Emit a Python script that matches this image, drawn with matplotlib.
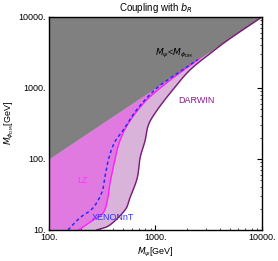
import numpy as np
import matplotlib
matplotlib.use("Agg")
import matplotlib.pyplot as plt
from matplotlib.ticker import FixedLocator, FixedFormatter, LogLocator, NullFormatter

# curves: M_phi (y) -> M_psi (x)
lz_phi = [10, 13, 17.4, 28, 43, 74, 158, 302, 620, 1100, 1800, 2600]
lz_psi = [190, 245, 323, 357, 372, 400, 450, 545, 780, 1200, 1850, 2600]

xe_phi = [10, 14.8, 20.4, 34.3, 59.5, 103, 173, 256, 417, 678, 1000, 1430, 2500]
xe_psi = [151, 195, 259, 315, 338, 365, 415, 500, 615, 797, 1033, 1430, 2500]

dw_phi = [10, 11.7, 19, 28, 54, 103, 174, 302, 490, 935, 1780, 3100, 5000, 10000]
dw_psi = [282, 372, 517, 575, 675, 717, 795, 860, 1040, 1450, 2100, 3300, 5050, 10000]

x_ticks = [100, 1000, 10000]
x_labels = ["100.", "1000.", "10000."]
y_ticks = [10, 100, 1000, 10000]
y_labels = ["10.", "100.", "1000.", "10000."]

plt.rcParams["font.family"] = ["Liberation Sans", "DejaVu Sans"]
plt.rcParams["mathtext.fontset"] = "dejavusans"


def smooth(phi, psi, n=40):
    # Catmull-Rom through the points, in log space
    p = np.column_stack([np.log10(psi), np.log10(phi)])
    p = np.vstack([2 * p[0] - p[1], p, 2 * p[-1] - p[-2]])
    t = np.linspace(0, 1, n, endpoint=False)[:, None]
    out = []
    for i in range(1, len(p) - 2):
        p0, p1, p2, p3 = p[i - 1], p[i], p[i + 1], p[i + 2]
        seg = 0.5 * ((2 * p1) + (-p0 + p2) * t + (2 * p0 - 5 * p1 + 4 * p2 - p3) * t ** 2
                     + (-p0 + 3 * p1 - 3 * p2 + p3) * t ** 3)
        out.append(seg)
    out.append(p[-2][None, :])
    out = np.vstack(out)
    x, y = 10 ** out[:, 0], 10 ** out[:, 1]
    return np.maximum(x, y), y


fig = plt.figure(figsize=(2.78, 2.61), dpi=100)
ax = fig.add_axes([0.176, 0.119, 0.766, 0.816])
ax.set_xscale("log")
ax.set_yscale("log")
ax.set_xlim(100, 10000)
ax.set_ylim(10, 10000)


def band(phi, psi, color, z):
    x, y = smooth(phi, psi)
    xl = np.maximum(y, 100)
    ax.fill_betweenx(y, xl, np.maximum(x, xl), color=color, lw=0, zorder=z)
    return x, y


x_d, y_d = band(dw_phi, dw_psi, "#d9b3d9", 1)
ax.plot(x_d, y_d, color="#7a1a7a", lw=1.0, zorder=4)
x_l, y_l = band(lz_phi, lz_psi, "#e07ae0", 2)
ax.plot(x_l, y_l, color="#ff22ff", lw=1.0, zorder=4)
x_x, y_x = smooth(xe_phi, xe_psi)
ax.plot(x_x, y_x, color="#2a2aff", lw=1.1, ls=(0, (2.2, 1.8)), zorder=5)

# gray region M_psi < M_phi
xg = np.array([100, 10000])
ax.fill_between(xg, xg, 10000, color="#808080", lw=0, zorder=3)

ax.text(1500, 3100, r"$M_\psi$<$M_{\phi_{\rm DM}}$", fontsize=6.5, ha="center", va="center", zorder=6)
ax.text(2450, 675, "DARWIN", fontsize=6.5, color="#8b1a8b", ha="center", va="center", zorder=6)
ax.text(205, 50, "LZ", fontsize=6.5, color="#ff33ff", ha="center", va="center", zorder=6)
ax.text(400, 15, "XENONnT", fontsize=6.5, color="#3333ff", ha="center", va="center", zorder=6)

ax.xaxis.set_major_locator(FixedLocator(x_ticks))
ax.xaxis.set_major_formatter(FixedFormatter(x_labels))
ax.yaxis.set_major_locator(FixedLocator(y_ticks))
ax.yaxis.set_major_formatter(FixedFormatter(y_labels))
ax.xaxis.set_minor_locator(LogLocator(base=10, subs=np.arange(2, 10)))
ax.yaxis.set_minor_locator(LogLocator(base=10, subs=np.arange(2, 10)))
ax.xaxis.set_minor_formatter(NullFormatter())
ax.yaxis.set_minor_formatter(NullFormatter())
ax.tick_params(which="both", direction="in", top=True, right=True, labelsize=6.5, pad=2)
ax.tick_params(which="major", length=3.5, width=0.8)
ax.tick_params(which="minor", length=1.8, width=0.5)
for s in ax.spines.values():
    s.set_linewidth(1.0)
    s.set_zorder(7)

ax.set_title(r"Coupling with $b_R$", fontsize=7, pad=4)
ax.set_xlabel(r"$M_\psi$[GeV]", fontsize=6.5, labelpad=3)
ax.set_ylabel(r"$M_{\phi_{\rm DM}}$[GeV]", fontsize=6.5, labelpad=2)

fig.savefig("out.png", dpi=100)
